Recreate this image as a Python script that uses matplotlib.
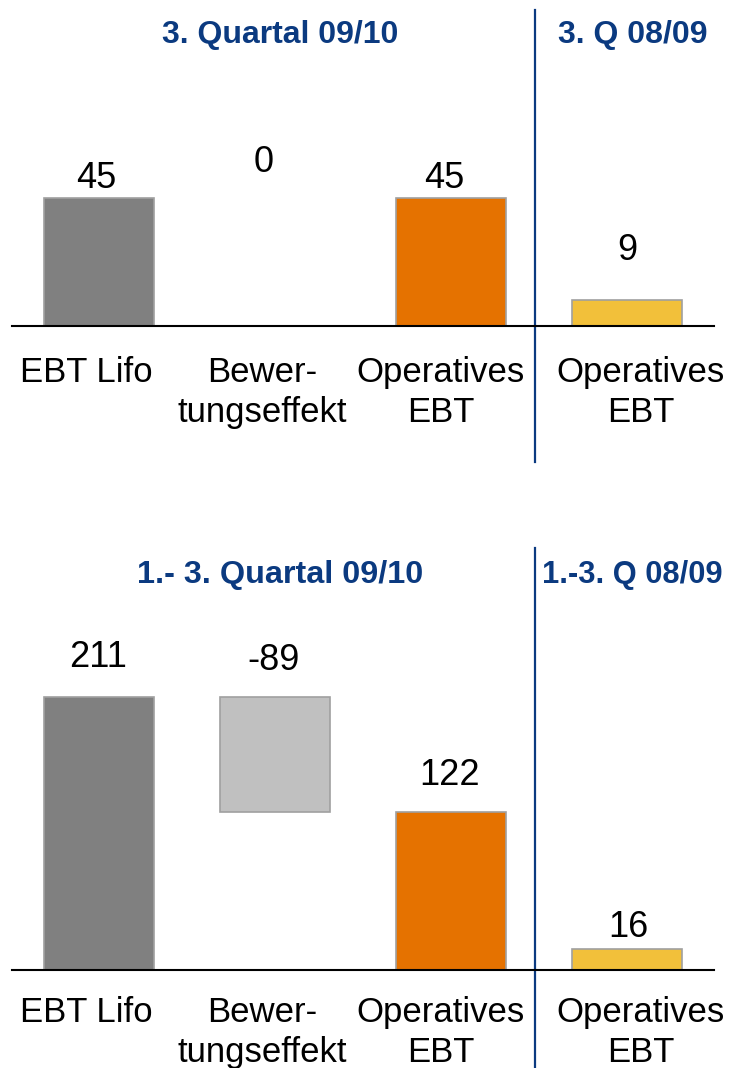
import numpy as np
import matplotlib.pyplot as plt

plt.rcParams['font.family'] = ['Liberation Sans', 'DejaVu Sans']

categories = ["EBT Lifo", "Bewer-\ntungseffekt", "Operatives\nEBT", "Operatives\nEBT"]
q3_values = [45, 0, 45, 9]
ytd_values = [211, -89, 122, 16]
q3_titles = ["3. Quartal 09/10", "3. Q 08/09"]
ytd_titles = ["1.- 3. Quartal 09/10", "1.-3. Q 08/09"]

colors = ['#808080', '#C0C0C0', '#E57200', '#F2C03A']
blue = '#0B3A80'
cat_dx = [-13, -13, -10, 14]  # px shift of category labels


def draw_panel(ax, values, titles, ylim, label_off, label_dx, cat_off, title_y,
               vline_span, right_title_left, title_size):
    # waterfall: start, change (floating), result, previous year
    v = values
    bottoms = [0, v[0] + v[1] if v[1] < 0 else v[0], 0, 0]
    heights = [v[0], abs(v[1]), v[2], v[3]]
    x = np.arange(len(v))
    lws = [1.2 if h != 0 else 0 for h in heights]
    ax.bar(x, heights, bottom=bottoms, width=0.625, color=colors,
           edgecolor='#A0A0A0', linewidth=lws, zorder=2)
    tops = [v[0], v[0], v[2], v[3]]
    for i in range(len(v)):
        ax.annotate(str(v[i]), xy=(x[i], tops[i]),
                    xytext=(label_dx[i] * 0.72, label_off[i] * 0.72),
                    textcoords='offset points', ha='center', va='center', fontsize=26)
        ax.annotate(categories[i], xy=(x[i], 0), xytext=(cat_dx[i] * 0.72, -cat_off * 0.72),
                    textcoords='offset points', ha='center', va='top', fontsize=25,
                    linespacing=1.28)
    ax.axhline(0, xmin=12 / 729, xmax=714 / 729, color='black', lw=1.5, zorder=3)
    vx = (535 - 99) / 176
    ax.axvline(vx, ymin=vline_span[0], ymax=vline_span[1], color=blue, lw=1.6)
    tr = ax.get_xaxis_transform()
    ax.text(1.03, title_y, titles[0], transform=tr, ha='center', va='center',
            fontsize=title_size, fontweight='bold', color=blue)
    if right_title_left:
        ax.text(vx + 0.04, title_y, titles[1], transform=tr, ha='left', va='center',
                fontsize=22.2, fontweight='bold', color=blue)
    else:
        ax.text(3.03, title_y, titles[1], transform=tr, ha='center', va='center',
                fontsize=title_size, fontweight='bold', color=blue)
    ax.set_xlim(-99 / 176, (729 - 99) / 176)
    ax.set_ylim(*ylim)
    ax.axis('off')


fig = plt.figure(figsize=(7.29, 10.68), dpi=100)
ax1 = fig.add_axes([0, 0.5, 1, 0.5])
ax2 = fig.add_axes([0, 0, 1, 0.5])

s1 = 2.844
draw_panel(ax1, q3_values, q3_titles, (-(534 - 326) / s1, 326 / s1),
           [20, 36, 20, 50], [-3, -11, -7, 0], 30, 1 - 35 / 534,
           (1 - 462 / 534, 1 - 10 / 534), False, 23)
s2 = 1.295
draw_panel(ax2, ytd_values, ytd_titles, (-(1068 - 970) / s2, (970 - 534) / s2),
           [39, 36, 37, 22], [-1, -1, -1, 1], 26, 1 - 41 / 534,
           (0, 1 - 14 / 534), True, 23.3)

fig.savefig('out.png', dpi=100)
